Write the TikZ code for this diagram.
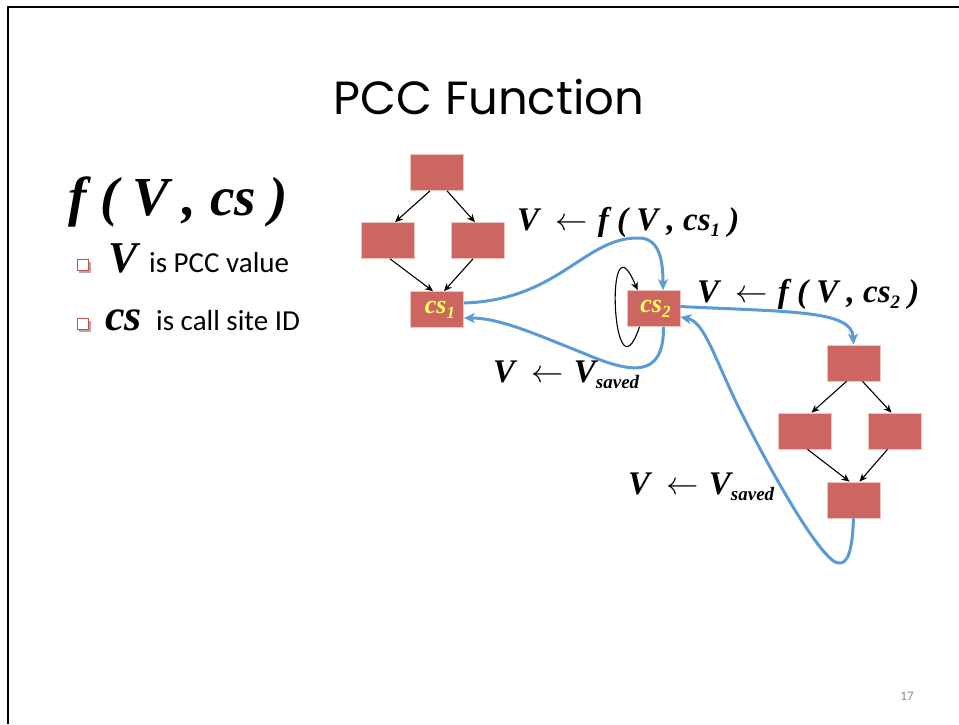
\documentclass[tikz,border=0pt]{standalone}
\usepackage{graphicx}
\usepackage{fontspec}
\setmainfont{Liberation Serif}
\newfontfamily\bodyfont{Carlito}
\newfontfamily\titlefont{Poppins}
\usetikzlibrary{arrows.meta}

\definecolor{blockred}{RGB}{205,102,96}
\definecolor{blockedge}{RGB}{238,196,190}
\definecolor{flowblue}{RGB}{91,155,213}
\definecolor{csyellow}{RGB}{255,255,102}
\definecolor{bulletred}{RGB}{192,80,77}
\definecolor{pagegray}{RGB}{140,140,140}

% lowered subscript in the current (bold italic) face
\newcommand{\lowsub}[2][19]{\raisebox{-0.4ex}{\fontsize{#1}{#1}\selectfont #2}}
% thin left arrow between bold italic terms
\newcommand{\getsarrow}{{\normalfont\hspace{0.5em}\scalebox{1.3}{$\leftarrow$}\hspace{0.3em}}}

\tikzset{
  block/.style={rectangle, fill=blockred, draw=blockedge, line width=0.7pt,
    minimum width=53pt, minimum height=36pt, inner sep=0pt},
  csbox/.style={block, text=csyellow, font=\bfseries\itshape\fontsize{26}{26}\selectfont},
  cfgarrow/.style={draw=black, line width=1.1pt, -{Stealth[length=8pt,width=7pt]}},
  flow/.style={draw=flowblue, line width=3pt, -{Stealth[length=11pt,width=10pt,inset=3pt]}},
  lbl/.style={anchor=base west, inner sep=0pt, font=\bfseries\itshape\fontsize{33}{33}\selectfont},
  bodytext/.style={anchor=base west, inner sep=0pt, font=\bodyfont\fontsize{29}{29}\selectfont},
  bullet/.style={draw=bulletred, line width=1.4pt, fill=white, minimum size=11pt, inner sep=0pt}
}

\begin{document}
\begin{tikzpicture}[x=1pt,y=-1pt]
\useasboundingbox (0,0) rectangle (959,724);

% slide frame
\draw[line width=2pt] (959,7) -- (8,7) -- (8,724);

% title
\node[anchor=base, inner sep=0pt, font=\titlefont\fontsize{46.5}{46.5}\selectfont] (title) at (489,114) {PCC Function};

% signature
\node[anchor=base west, inner sep=0pt, font=\bfseries\itshape\fontsize{55}{55}\selectfont] (sig) at (68,215) {f ( V , cs )};

% bullets
\fill[bulletred!60!black, opacity=0.45] (79,262) rectangle (91,273);
\node[bullet] (b1) at (83,265) {};
\node[anchor=base west, inner sep=0pt, font=\bfseries\itshape\fontsize{44}{44}\selectfont] (bv) at (108,272) {V};
\node[bodytext] (t1) at (149,272) {is PCC value};

\fill[bulletred!60!black, opacity=0.45] (79,321) rectangle (91,332);
\node[bullet] (b2) at (83,324) {};
\node[anchor=base west, inner sep=0pt, font=\bfseries\itshape\fontsize{44}{44}\selectfont] (bcs) at (105,330) {cs};
\node[bodytext] (t2) at (156,330) {is call site ID};

% first control-flow graph
\node[block] (lt)  at (437,172.5) {};
\node[block] (lml) at (388,240.5) {};
\node[block] (lmr) at (478,240.5) {};
\node[csbox] (cs1) at (437,309.5) {\hspace*{6pt}cs\lowsub[17]{1}};

\draw[cfgarrow] ([xshift=-7pt]lt.south) -- ([xshift=7pt]lml.north);
\draw[cfgarrow] ([xshift=10pt]lt.south) -- ([xshift=-3pt]lmr.north);
\draw[cfgarrow] ([xshift=2pt]lml.south) -- ([xshift=-4pt]cs1.north);
\draw[cfgarrow] ([xshift=-5pt]lmr.south) -- ([xshift=7pt]cs1.north);

% recursive call site
\node[csbox] (cs2) at (653.5,308.5) {\hspace*{4pt}cs\lowsub[17]{2}};
\draw[cfgarrow] ([xshift=-14pt]cs2.south) .. controls (612,408) and (604,208) .. ([xshift=-16pt]cs2.north);

% second control-flow graph
\node[block] (rt)  at (853.5,363) {};
\node[block] (rml) at (804.5,431) {};
\node[block] (rmr) at (894.5,431) {};
\node[block] (rb)  at (853.5,500) {};

\draw[cfgarrow] ([xshift=-7pt]rt.south) -- ([xshift=7pt]rml.north);
\draw[cfgarrow] ([xshift=9pt]rt.south) -- ([xshift=-3pt]rmr.north);
\draw[cfgarrow] ([xshift=3pt]rml.south) -- ([xshift=-4pt]rb.north);
\draw[cfgarrow] ([xshift=-7pt]rmr.south) -- ([xshift=6pt]rb.north);

% value updates along calls and returns
\draw[flow] ([yshift=6.5pt]cs1.east) .. controls (560,300) and (585,236) .. (640,238)
  .. controls (660,239) and (663,262) .. ([xshift=9.5pt]cs2.north);
\draw[flow] ([xshift=10pt]cs2.south) .. controls (664,380) and (630,373) .. (583,353)
  .. controls (535,334) and (500,318) .. ([yshift=-8.5pt]cs1.east);
\draw[flow] ([yshift=2pt]cs2.east) .. controls (790,312) and (852,310) .. (rt.north);
\draw[flow] (rb.south) .. controls (852,560) and (845,566) .. (835,562)
  .. controls (815,550) and (770,470) .. (740,410)
  .. controls (715,360) and (705,322) .. ([yshift=-8.5pt]cs2.east);

% labels of the updates
\node[lbl] (l1) at (517,230) {V\getsarrow f ( V , cs\lowsub{1} )};
\node[lbl] (l2) at (697,302) {V\getsarrow f ( V , cs\lowsub{2} )};
\node[lbl] (l3) at (493,382) {V\getsarrow V\lowsub{saved}};
\node[lbl] (l4) at (628,494) {V\getsarrow V\lowsub{saved}};

% page number
\node[anchor=base, inner sep=0pt, text=pagegray, font=\bodyfont\fontsize{13}{13}\selectfont] (pg) at (907,700) {17};
\end{tikzpicture}
\end{document}
